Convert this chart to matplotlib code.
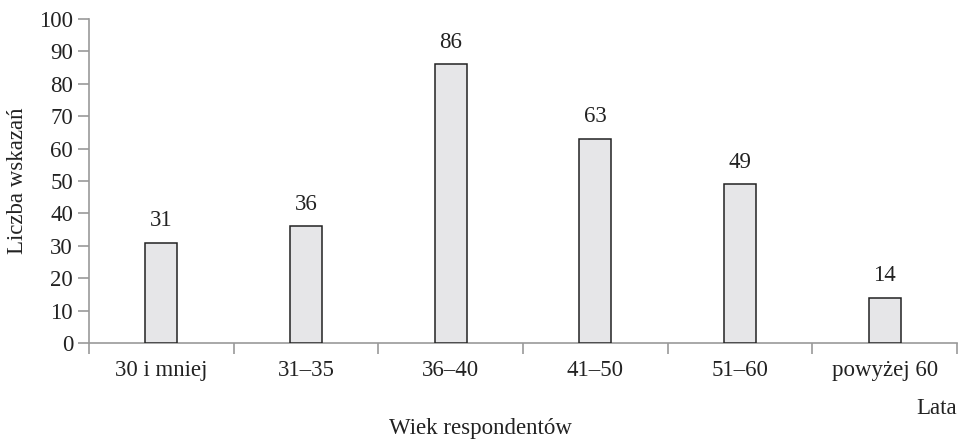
import numpy as np
import matplotlib.pyplot as plt

plt.rcParams['font.family'] = ['Liberation Serif', 'DejaVu Serif']

categories = ['30 i mniej', '31–35', '36–40', '41–50', '51–60', 'powyżej 60']
counts = [31, 36, 86, 63, 49, 14]

fs = 16.5
ink = '#222222'

fig = plt.figure(figsize=(9.62, 4.4), dpi=100)
ax = fig.add_axes([89/962, 97/440, 868/962, 324/440])

x = np.arange(len(categories))
ax.bar(x, counts, width=0.22, color='#e6e6e8', edgecolor=ink, linewidth=1.1, zorder=3)
for xi, v in zip(x, counts):
    ax.text(xi, v + 5.1, str(v), ha='center', va='baseline', fontsize=fs, color=ink)

ax.set_xlim(-0.5, len(categories) - 0.5)
ax.set_ylim(0, 100)
ax.set_yticks(np.arange(0, 101, 10))
# boundaries get the tick marks, centres get the labels
ax.set_xticks(np.arange(-0.5, len(categories), 1.0))
ax.set_xticklabels([])
ax.set_xticks(x, minor=True)
ax.set_xticklabels(categories, minor=True)
ax.tick_params(axis='x', which='minor', length=0, pad=12, labelsize=fs, labelcolor=ink)
ax.tick_params(axis='x', which='major', length=8, color='#999999', width=1.2)
ax.tick_params(axis='y', length=8, color='#999999', width=1.2, labelsize=fs, labelcolor=ink)

for s in ['top', 'right']:
    ax.spines[s].set_visible(False)
for s in ['left', 'bottom']:
    ax.spines[s].set_color('#999999')
    ax.spines[s].set_linewidth(1.2)

ax.set_ylabel('Liczba wskazań', fontsize=fs, color=ink, labelpad=8)
fig.text(957/962, 1 - 408/440, 'Lata', ha='right', va='center', fontsize=fs, color=ink)
fig.text(480/962, 1 - 428/440, 'Wiek respondentów', ha='center', va='center', fontsize=fs, color=ink)

fig.savefig('out.png', dpi=100)
